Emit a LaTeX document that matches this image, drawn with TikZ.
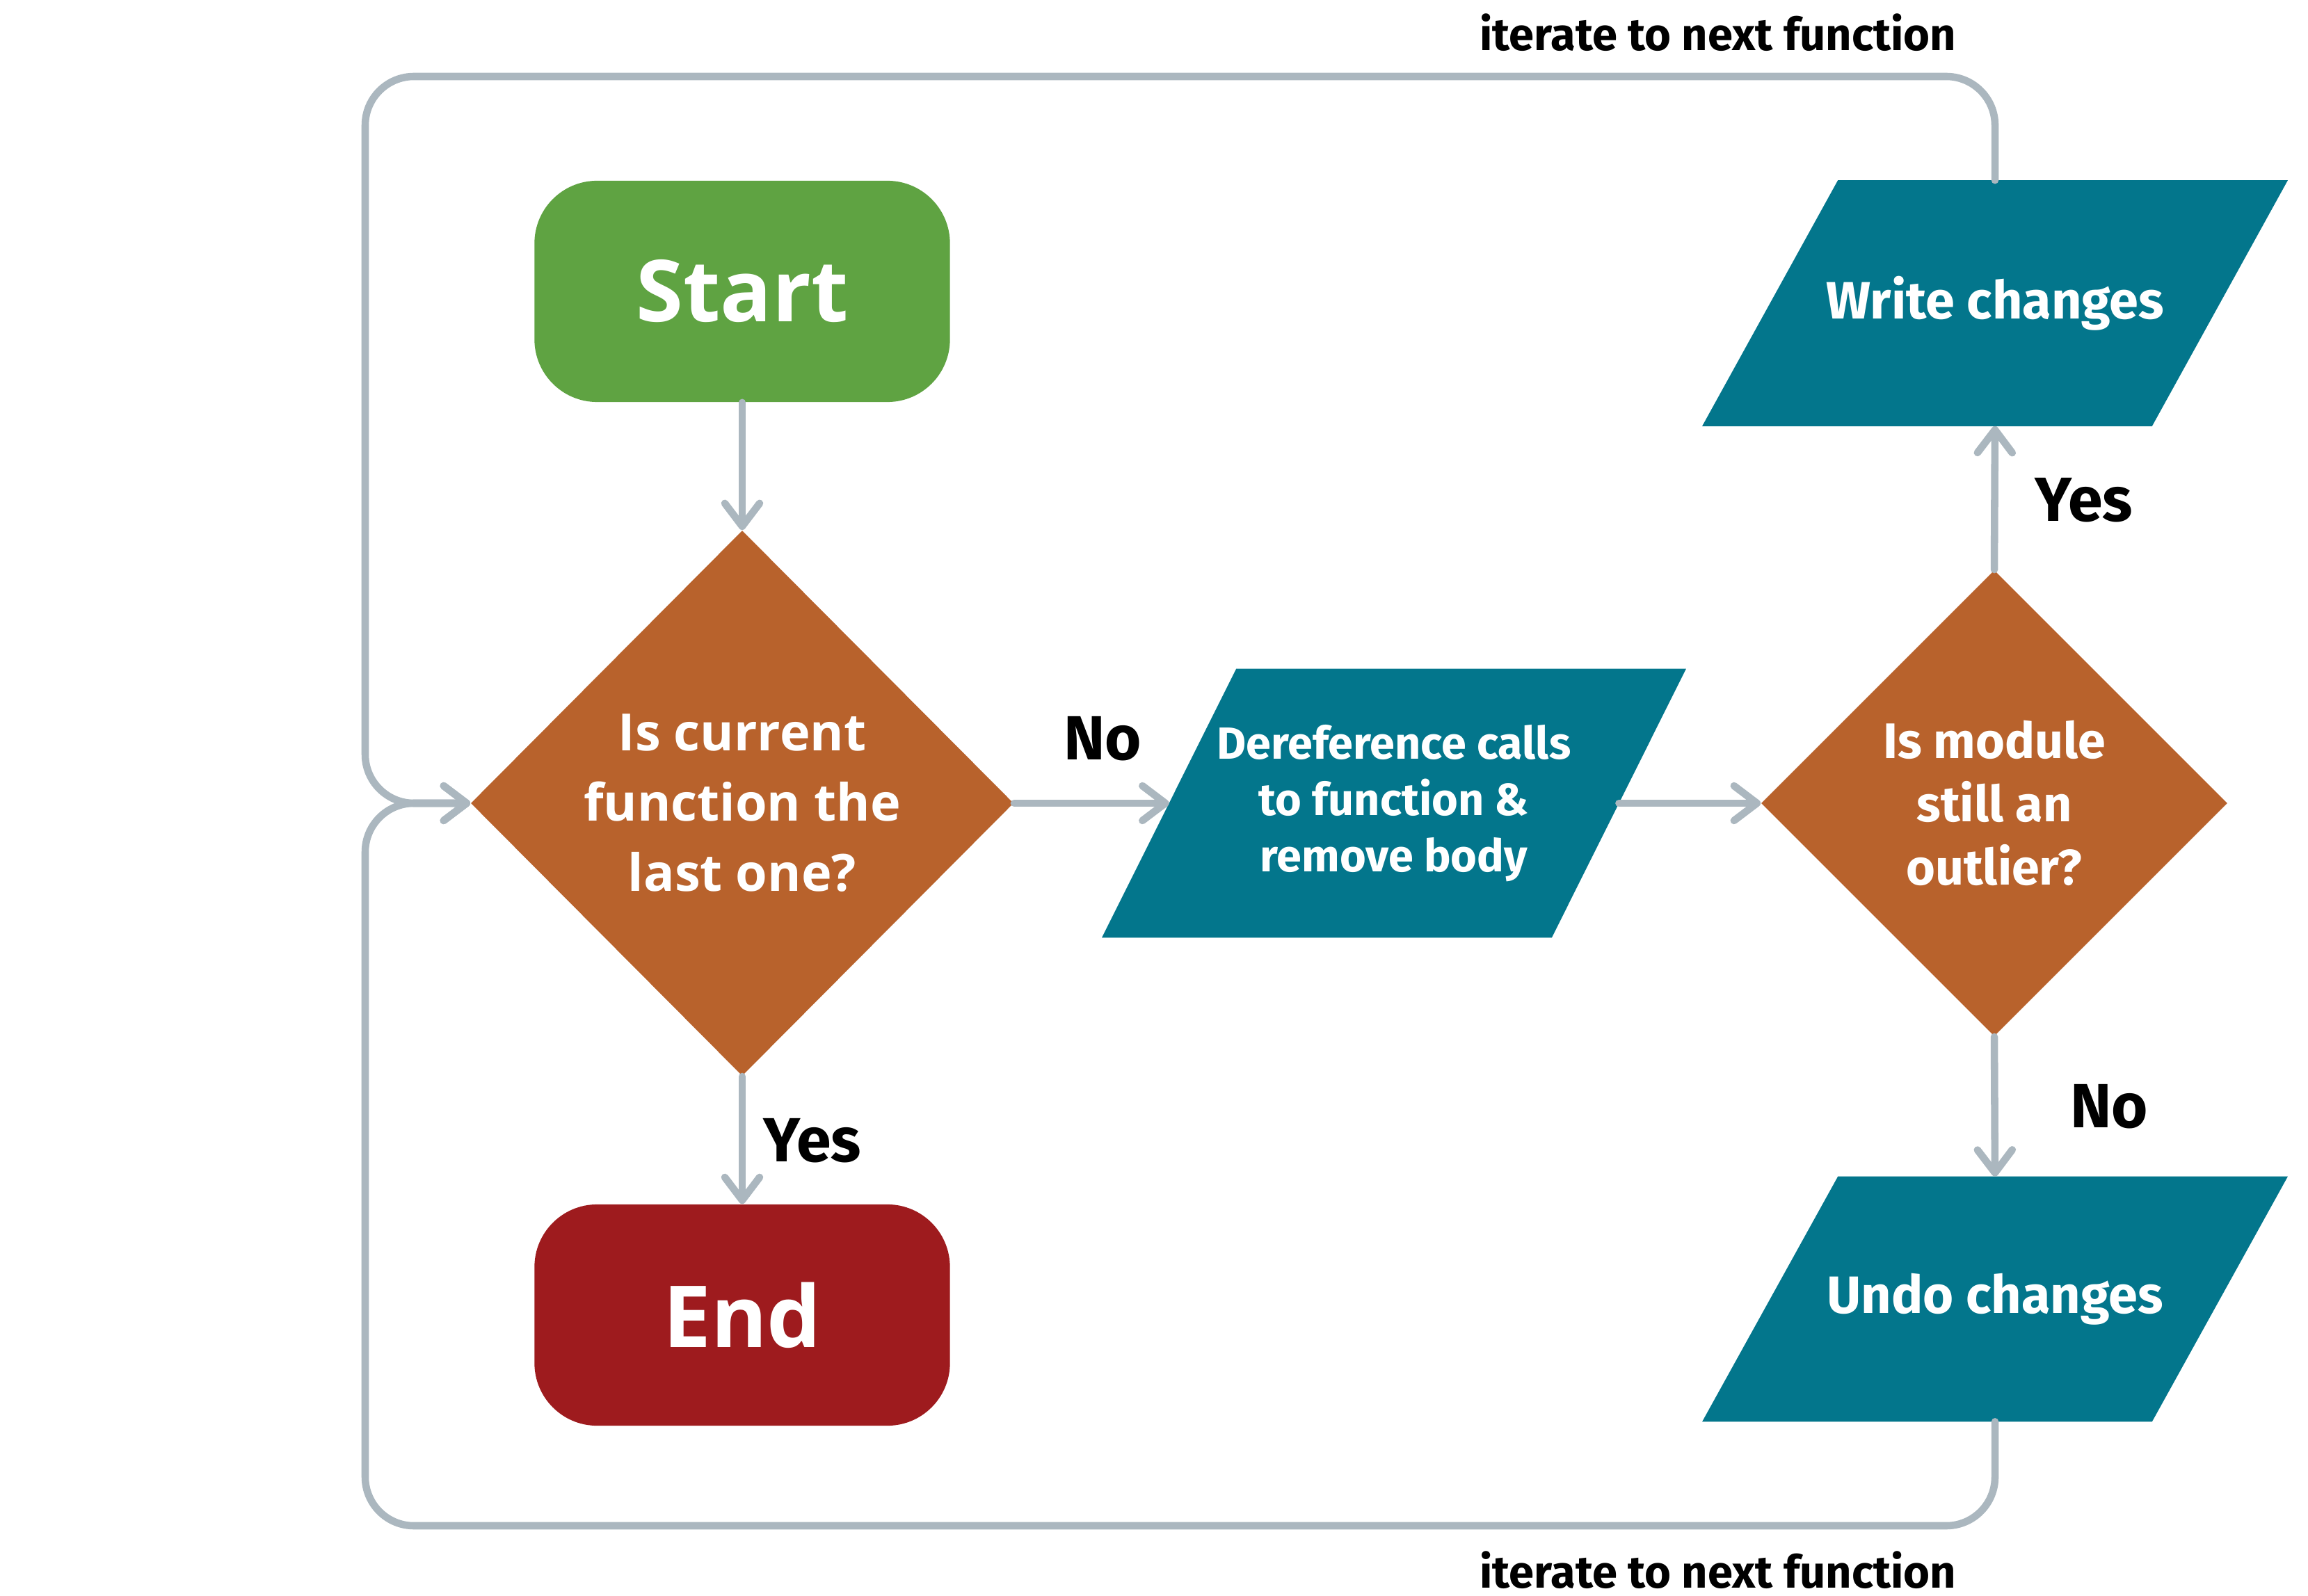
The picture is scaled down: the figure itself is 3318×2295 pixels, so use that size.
\documentclass[tikz,border=0pt]{standalone}
\usepackage{fontspec}
\setmainfont{Open Sans}
\newfontfamily\fira{Fira Sans}
\usetikzlibrary{shapes.geometric, arrows.meta}
\pgfdeclarelayer{background}
\pgfsetlayers{background,main}
\definecolor{cgreen}{HTML}{5FA342}
\definecolor{cred}{HTML}{9E1B1E}
\definecolor{corange}{HTML}{B8622C}
\definecolor{cteal}{HTML}{03768C}
\definecolor{cgray}{HTML}{ABB7BF}
\begin{document}
\begin{tikzpicture}[x=0.01cm, y=-0.01cm,
  conn/.style={draw=cgray, line width=3pt, line cap=round, line join=round},
  arr/.style={conn, -{Straight Barb[length=0.33cm, width=0.5cm, line cap=round, line join=round]}},
  term/.style={rounded corners=0.9cm, minimum width=5.97cm, minimum height=3.18cm, inner sep=0pt, text=white, font=\fontsize{35}{42}\selectfont\bfseries},
  decide/.style={diamond, fill=corange, inner sep=0pt, text=white, align=center},
  iobody/.style={rectangle, inner sep=0pt, text=white, align=center},
  lbl/.style={inner sep=0pt, text=black, font=\fira\fontsize{25.5}{30}\selectfont\bfseries},
  itl/.style={inner sep=0pt, text=black, font=\fira\fontsize{18.5}{22}\selectfont\bfseries}
]
\useasboundingbox (0,0) rectangle (3318,2295);

\node[term, fill=cgreen] (start) at (1067,419) {Start};
\node[term, fill=cred] (end) at (1067,1891) {End};
\node[decide, minimum width=7.8cm, minimum height=7.84cm, font=\fontsize{21}{28.7}\selectfont\bfseries] (d1) at (1067,1155) {Is current\\function the\\last one?};
\node[iobody, minimum width=6.45cm, minimum height=3.85cm, font=\fira\fontsize{18.4}{23}\selectfont\bfseries] (deref) at (2004,1155) {Dereference calls\\to function \&\\remove body};
\node[decide, minimum width=6.7cm, minimum height=6.7cm, font=\fira\fontsize{20.4}{25.9}\selectfont\bfseries] (d2) at (2867,1155) {Is module\\still an\\outlier?};
\node[iobody, minimum width=6.45cm, minimum height=3.52cm, font=\fira\fontsize{21.5}{26}\selectfont\bfseries] (write) at (2868,436) {\raisebox{-0.1cm}{Write changes}};
\node[iobody, minimum width=6.45cm, minimum height=3.51cm, font=\fira\fontsize{21.5}{26}\selectfont\bfseries] (undo) at (2868,1868) {\raisebox{-0.05cm}{Undo changes}};

\begin{pgfonlayer}{background}
\fill[cteal] ([xshift=0.965cm]deref.north west) -- ([xshift=0.965cm]deref.north east) -- ([xshift=-0.965cm]deref.south east) -- ([xshift=-0.965cm]deref.south west) -- cycle;
\fill[cteal] ([xshift=0.975cm]write.north west) -- ([xshift=0.975cm]write.north east) -- ([xshift=-0.975cm]write.south east) -- ([xshift=-0.975cm]write.south west) -- cycle;
\fill[cteal] ([xshift=0.975cm]undo.north west) -- ([xshift=0.975cm]undo.north east) -- ([xshift=-0.975cm]undo.south east) -- ([xshift=-0.975cm]undo.south west) -- cycle;
\end{pgfonlayer}

\coordinate (tl) at (525,110);
\coordinate (bl) at (525,2194);
\coordinate (jn) at (525,1155);

\draw[arr] (start.south) -- (d1.north);
\draw[arr] (d1.south) -- (end.north);
\draw[arr] (d1.east) -- (deref.west);
\draw[arr] (deref.east) -- (d2.west);
\draw[arr] (d2.north) -- (write.south);
\draw[arr] (d2.south) -- (undo.north);
\draw[arr, rounded corners=0.7cm] (write.north) |- (tl) -- (jn) -- (d1.west);
\draw[arr, rounded corners=0.7cm] (undo.south) |- (bl) -- (jn) -- (d1.west);

\node[lbl] (lno1) at (1585,1062) {No};
\node[lbl] (lyes1) at (1168,1640) {Yes};
\node[lbl] (lyes2) at (2996,719) {Yes};
\node[lbl] (lno2) at (3032,1591) {No};
\node[itl] (it1) at (2470,47) {iterate to next function};
\node[itl] (it2) at (2470,2258) {iterate to next function};
\end{tikzpicture}
\end{document}
